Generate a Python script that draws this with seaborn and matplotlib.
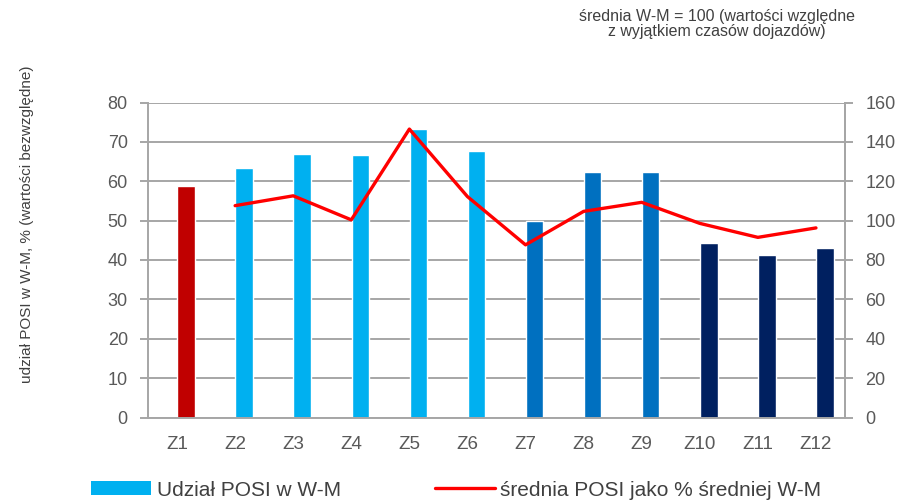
import numpy as np
import pandas as pd
import matplotlib
matplotlib.use("Agg")
import matplotlib.pyplot as plt
import seaborn as sns
from matplotlib.patches import Patch
from matplotlib.lines import Line2D

categories = ["Z1", "Z2", "Z3", "Z4", "Z5", "Z6", "Z7", "Z8", "Z9", "Z10", "Z11", "Z12"]
share_values = [58.7, 63.3, 67.0, 66.7, 73.2, 67.7, 49.8, 62.3, 62.3, 44.3, 41.2, 43.0]
avg_pct_values = [np.nan, 107.6, 112.6, 100.4, 146.5, 112.2, 87.7, 104.7, 109.3, 98.6, 91.5, 96.3]
bar_colors = ["#C00000", "#00B0F0", "#00B0F0", "#00B0F0", "#00B0F0", "#00B0F0",
              "#0070C0", "#0070C0", "#0070C0", "#002060", "#002060", "#002060"]
left_ticks = [0, 10, 20, 30, 40, 50, 60, 70, 80]
right_ticks = [0, 20, 40, 60, 80, 100, 120, 140, 160]

sns.set_style("white")
plt.rcParams["font.family"] = ["Liberation Sans", "DejaVu Sans"]

df = pd.DataFrame({"cat": categories, "share": share_values, "avg": avg_pct_values})

fig = plt.figure(figsize=(9.04, 5.0), dpi=100)
ax = fig.add_axes([148 / 904, 1 - 417.5 / 500, (845 - 148) / 904, (417.5 - 102.5) / 500])

sns.barplot(data=df, x="cat", y="share", hue="cat", palette=bar_colors, legend=False,
            width=0.30, ax=ax, saturation=1)
offset = 0.155
for p in ax.patches:
    p.set_x(p.get_x() + offset)

ax.set_xlim(-0.5, len(categories) - 0.5)
ax.set_ylim(0, 80)
ax.set_yticks(left_ticks)
ax.set_xlabel("")
ax.set_ylabel("")
grid_c = "#A6A6A6"
ax.yaxis.grid(True, color=grid_c, linewidth=1.4)
ax.set_axisbelow(True)
ax.spines["top"].set_visible(False)
for s in ["left", "right", "bottom"]:
    ax.spines[s].set_color(grid_c)
    ax.spines[s].set_linewidth(1.4)

tick_c = "#595959"
ax.tick_params(axis="y", left=True, length=6, width=1.4, color=grid_c, labelsize=13,
               labelcolor=tick_c, pad=8.5)
ax.tick_params(axis="x", bottom=False, labelsize=13.5, labelcolor=tick_c, pad=10)

ax2 = ax.twinx()
sns.lineplot(data=df, x=np.arange(len(categories)), y="avg", color="#FF0000", linewidth=2.4, ax=ax2)
ax2.set_ylim(0, 160)
ax2.set_yticks(right_ticks)
ax2.set_ylabel("")
ax2.set_xlim(-0.5, len(categories) - 0.5)
for s in ["top", "left", "bottom"]:
    ax2.spines[s].set_visible(False)
ax2.spines["right"].set_color(grid_c)
ax2.spines["right"].set_linewidth(1.4)
ax2.tick_params(axis="y", right=True, length=6, width=1.4, color=grid_c, labelsize=13,
                labelcolor=tick_c, pad=8.5)

fig.text(27 / 904, 1 - 224 / 500, "udział POSI w W-M, % (wartości bezwzględne)",
         rotation=90, ha="center", va="center", fontsize=11, color="#404040")

fig.text(717 / 904, 1 - 24 / 500, "średnia W-M = 100 (wartości względne\nz wyjątkiem czasów dojazdów)",
         ha="center", va="center", fontsize=11.5, color="#404040", linespacing=1.05)

handles = [Patch(facecolor="#00B0F0", edgecolor="none"),
           Line2D([0], [0], color="#FF0000", linewidth=2.4)]
labels = ["Udział POSI w W-M", "średnia POSI jako % średniej W-M"]
fig.legend(handles, labels, loc="center left", bbox_to_anchor=(91 / 904, 1 - 490 / 500),
           ncol=2, frameon=False, fontsize=15, handlelength=2.9, handleheight=0.65,
           handletextpad=0.25, columnspacing=4.5, labelcolor="#404040", borderaxespad=0,
           borderpad=0)

fig.savefig("out.png", dpi=100)
